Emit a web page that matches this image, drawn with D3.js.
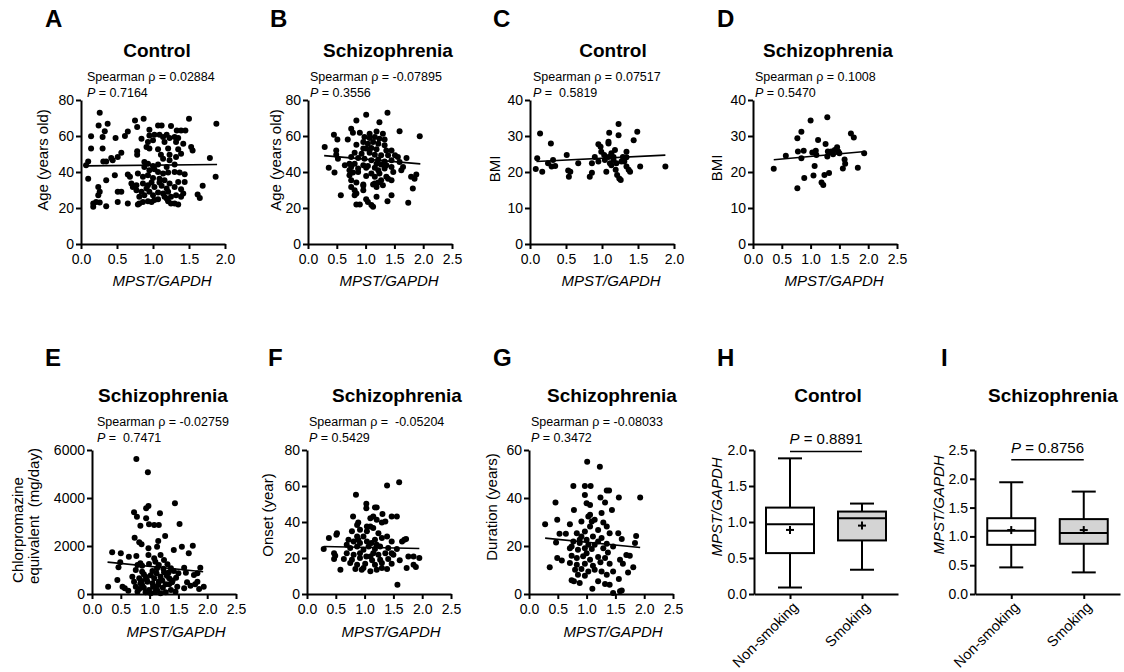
<!DOCTYPE html>
<html><head><meta charset="utf-8">
<script src="https://cdn.jsdelivr.net/npm/d3@7"></script>
<style>
body{margin:0;background:#fff}
svg{display:block}
text{font-family:Arial,"Liberation Sans",sans-serif;fill:#000;white-space:pre}
</style>
</head><body>
<svg id="c" width="1124" height="672"></svg>
<script>
// ---------------- DATA ----------------
const xLabel = "MPST/GAPDH";
const panelLetters = ["A","B","C","D","E","F","G","H","I"];
const panelTitles = ["Control","Schizophrenia","Control","Schizophrenia","Schizophrenia","Schizophrenia","Schizophrenia","Control","Schizophrenia"];
const yTitles = [["Age (years old)"],["Age (years old)"],["BMI"],["BMI"],["Chlorpromazine","equivalent  (mg/day)"],["Onset (year)"],["Duration (years)"],["MPST/GAPDH"],["MPST/GAPDH"]];
const rhoTexts = ["Spearman \u03c1 = 0.02884","Spearman \u03c1 = -0.07895","Spearman \u03c1 = 0.07517","Spearman \u03c1 = 0.1008","Spearman \u03c1 = -0.02759","Spearman \u03c1 =  -0.05204","Spearman \u03c1 = -0.08033"];
const pTexts = [" = 0.7164"," = 0.3556"," =  0.5819"," = 0.5470"," =  0.7471"," = 0.5429"," = 0.3472"];
const xMax = [2.0,2.5,2.0,2.5,2.5,2.5,2.5];
const yMax = [80,80,40,40,6000,80,60];
const yStep = [20,20,10,10,2000,20,20];

const ageControl = [[0.26,72.9],[0.75,68.6],[0.87,69.6],[1.50,69.6],[1.88,66.8],[0.245,65.9],[0.37,66.8],[0.78,65],[0.95,63.5],[1.07,65.9],[1.12,65.9],[1.25,65.5],[1.33,63.1],[1.39,63.1],[1.45,63.1],[0.33,62.7],[0.65,62.5],[0.14,59.8],[0.30,59.4],[0.48,58.9],[0.61,60],[0.84,58.5],[0.95,60.3],[1.02,60.7],[1.09,60.7],[1.14,59.4],[1.19,60.7],[1.23,58.9],[1.30,59.4],[1.35,58.9],[0.93,56.6],[1.00,57.6],[1.16,56.6],[1.32,56.6],[1.42,55.7],[1.53,53.9],[1.55,52],[0.14,53],[0.30,53],[0.91,53.9],[0.95,53],[1.07,52.6],[1.21,53],[1.35,52.6],[1.39,50.2],[1.23,49.6],[0.56,50.7],[0.51,48.3],[0.44,46.5],[0.42,47.8],[0.31,45.9],[0.35,45.9],[0.10,45.9],[0.07,43.7],[0.78,49.6],[0.78,51.5],[1.11,49.6],[1.14,47.4],[1.23,46.5],[1.32,48.3],[1.79,47.8],[0.88,45.6],[0.93,44.6],[1.00,43.4],[1.07,44.1],[1.19,42.8],[1.30,44.1],[0.88,42.8],[0.95,41],[1.02,41.5],[1.07,40],[1.14,39.1],[1.21,39.7],[1.30,40],[1.37,39.7],[1.44,38.7],[1.87,37.3],[0.10,36.3],[0.35,35.4],[0.47,38.2],[0.65,38.6],[0.68,37.3],[0.79,39.1],[0.86,37.3],[0.93,38.2],[1.00,36.7],[1.09,36.3],[1.09,34.1],[1.16,35.4],[1.23,33.6],[1.35,34.5],[1.44,34.5],[0.70,33.6],[0.77,32.7],[0.86,33.6],[0.93,32.7],[0.98,34.1],[1.02,31.7],[1.12,32.3],[1.19,30.8],[1.30,31.7],[1.39,30.4],[1.69,32.3],[0.24,31.7],[0.26,29],[0.51,29],[0.56,29],[0.72,31.7],[0.77,29.9],[0.84,29],[0.91,30.8],[0.95,29],[1.07,28.6],[1.14,28],[1.21,29],[1.32,27.1],[1.42,28],[1.62,27.5],[0.24,27.1],[1.65,25.6],[0.81,26.2],[0.88,27.1],[1.00,27.1],[1.16,26.2],[1.25,26.2],[1.39,26.2],[0.51,23.4],[0.65,22.5],[0.81,22.5],[0.86,23.4],[0.93,23.8],[1.07,24.9],[1.21,23.8],[1.25,22.5],[1.30,22.5],[1.35,22],[0.17,22.5],[0.21,23.4],[0.26,23.1],[0.17,20.7],[0.35,21],[0.79,22],[0.98,23.4],[1.02,24.4],[1.19,25.3]];

const ageSchizo = [[1.38,72.9],[1.01,71.8],[0.84,68.6],[1.24,67.7],[1.59,62.7],[1.94,59.8],[0.75,64],[0.78,61.8],[0.90,61.8],[1.19,62.5],[1.07,61.3],[1.30,61.3],[0.45,60.7],[0.51,58.1],[0.69,58.1],[0.98,59.4],[1.07,58.9],[1.16,59.4],[1.24,58.5],[1.33,58.1],[0.29,53.9],[0.84,55.2],[0.96,56.6],[1.04,55.7],[1.13,56.6],[1.22,55.7],[1.33,54.8],[0.49,52],[0.96,53],[1.01,53],[1.10,53.3],[1.19,52.6],[1.36,52],[1.45,52],[0.81,50.7],[0.93,50.2],[1.07,50.7],[1.16,49.6],[1.27,49.3],[1.39,49.3],[1.51,49.3],[0.49,49.6],[0.75,48.3],[0.87,47.8],[0.98,47.4],[1.10,46.5],[1.22,47],[1.33,45.9],[1.45,46.5],[1.56,48.3],[1.71,47.8],[1.59,45.6],[0.72,44.6],[0.64,43.7],[0.81,44.6],[0.96,43.7],[1.04,43.4],[1.19,44.6],[1.27,44.1],[1.36,43.7],[0.36,42.3],[0.46,39.7],[0.75,42.8],[0.87,41.9],[1.01,42.3],[1.16,42.3],[1.22,41],[1.33,41.9],[1.45,42.8],[1.62,41],[1.65,42.8],[0.78,39.7],[0.87,40],[1.10,39.1],[1.24,39.1],[1.48,40],[0.72,38.2],[1.01,37.8],[1.16,37.3],[1.36,37.3],[1.88,38.6],[1.79,37.3],[0.75,35.4],[0.84,34.1],[1.27,35.4],[1.39,36.3],[1.85,36.3],[0.96,33],[1.16,33.6],[1.22,34.1],[1.45,35.4],[0.75,31.7],[0.81,29.9],[1.13,33],[1.19,31.7],[1.30,32.7],[1.82,30.8],[0.84,28],[0.96,32.3],[1.45,27.1],[0.57,27.1],[0.81,27.1],[1.01,24.9],[1.19,26.2],[1.38,23.8],[1.74,22.9],[0.84,22],[0.90,22],[1.10,21.6],[1.13,20.7],[1.04,23.4],[0.96,29.9],[0.72,41],[0.52,47.4]];

const bmiControl = [[0.14,30.7],[0.10,23.8],[0.08,20.8],[0.17,20.1],[0.25,22.4],[0.29,27.9],[0.32,23.3],[0.30,21.5],[0.35,21.7],[0.51,24.7],[0.53,20.4],[0.56,20.1],[0.54,18.7],[0.67,22.4],[0.83,18.7],[0.86,19.8],[0.86,22.4],[0.90,24.2],[0.95,22.9],[0.95,27.7],[0.98,27],[0.99,25.6],[1.03,24.7],[1.04,23.3],[1.06,20.1],[1.09,27.9],[1.09,28.4],[1.10,30.9],[1.09,24.2],[1.11,22.4],[1.13,25.2],[1.16,23.3],[1.18,26.1],[1.19,20.6],[1.21,19.2],[1.23,33.3],[1.23,30.2],[1.24,18.2],[1.26,17.8],[1.27,22.9],[1.29,24.2],[1.31,22.9],[1.34,25.6],[1.34,21.5],[1.37,20.6],[1.39,20.1],[1.44,28.8],[1.49,31.2],[1.53,21.5],[1.88,21.5],[1.16,24.2],[1.20,22.4],[1.13,21.9],[1.34,24.1]];

const bmiSchizo = [[0.36,20.9],[0.57,24.5],[0.77,15.5],[0.77,29.4],[0.84,31.2],[0.78,25.7],[0.84,23.8],[0.88,25.9],[0.89,18.3],[1.00,34.3],[1.03,25.4],[1.05,19],[1.07,21.7],[1.09,25.9],[1.10,24.7],[1.13,28.9],[1.19,17.1],[1.22,16.4],[1.24,19.2],[1.26,27.8],[1.29,35.2],[1.29,24.3],[1.32,19.7],[1.30,25.7],[1.36,25.7],[1.42,26.1],[1.46,26.9],[1.48,25.7],[1.50,25.2],[1.56,21],[1.59,23.5],[1.60,22.3],[1.70,30.7],[1.75,29.6],[1.82,21.2],[1.93,25.2],[1.39,24.9]];

const cpzDose = [[0.77,5625],[0.97,5070],[1.44,3778],[0.94,3570],[0.98,3667],[0.73,3403],[0.78,3222],[0.94,3153],[1.18,3361],[0.84,2847],[0.99,2903],[1.08,2875],[1.16,2875],[1.52,2917],[1.27,2417],[0.74,2347],[0.82,2153],[0.86,2070],[1.15,2208],[0.98,1903],[1.13,1972],[1.56,1972],[1.75,2014],[1.42,1833],[1.68,1694],[0.35,1736],[0.50,1694],[0.77,1583],[0.98,1625],[1.08,1486],[1.19,1625],[1.10,1347],[1.25,1417],[0.84,1278],[0.87,1180],[0.99,1250],[1.16,1208],[1.31,1236],[0.49,1319],[0.46,1111],[1.37,1069],[1.60,1097],[1.88,1097],[0.76,1000],[0.87,930],[1.05,958],[1.13,1069],[1.25,903],[1.42,958],[1.50,861],[1.63,889],[1.77,792],[1.83,861],[0.70,722],[0.82,653],[0.93,722],[1.08,653],[1.19,722],[1.34,653],[1.46,680],[0.44,583],[0.73,514],[0.84,444],[0.96,514],[1.05,444],[1.16,514],[1.28,403],[1.39,486],[1.65,486],[1.79,403],[1.83,514],[0.28,306],[0.53,306],[0.57,236],[0.63,139],[0.76,306],[0.82,208],[0.90,264],[0.99,167],[1.08,306],[1.13,167],[1.23,264],[1.37,167],[1.48,306],[1.60,236],[1.71,347],[1.86,208],[1.94,306],[0.79,97],[0.93,69],[1.10,97],[1.28,69],[1.45,97],[0.87,375],[1.19,28],[1.02,28],[1.34,403],[0.79,1208],[0.64,1556],[0.90,820],[1.02,780],[1.12,860],[1.22,560],[1.30,760],[0.95,600],[1.06,300],[1.15,380],[0.86,540],[1.24,1050],[1.33,900],[1.40,560]];

const onsetAge = [[1.60,62.1],[1.39,60.3],[0.85,55.1],[1.03,50.1],[1.03,47.7],[1.18,48.1],[1.21,48.1],[1.31,44.4],[1.56,43.1],[1.47,43.1],[0.80,43.1],[1.15,43.1],[1.36,40.3],[1.30,39.7],[1.21,41.2],[1.10,42.1],[0.87,38.4],[0.89,39.7],[0.38,31.1],[0.52,33.8],[0.51,32.9],[0.78,34.8],[0.92,35.7],[1.04,34.8],[1.15,36.6],[1.24,33.8],[1.39,32],[0.98,32],[0.72,30.1],[0.81,29.2],[0.89,30.1],[1.04,29.2],[1.18,30.1],[1.30,31.1],[1.47,29.2],[1.69,30.1],[1.72,30.5],[1.65,29.2],[0.29,25],[0.75,25.5],[0.87,26.4],[0.98,24.6],[1.07,26.4],[1.18,25],[1.27,26.4],[1.41,25.5],[1.56,25],[0.47,22.7],[0.49,21.3],[0.69,22.7],[0.81,21.8],[0.92,22.7],[1.03,20.9],[1.15,22.7],[1.24,21.8],[1.36,22.7],[1.50,21.8],[1.76,20.9],[1.85,20.9],[1.95,20],[0.47,19.4],[0.64,19.4],[0.78,19],[0.92,20],[1.13,18.7],[1.27,19],[1.41,19.4],[1.61,18.7],[0.75,17.2],[0.87,16.3],[1.01,16.8],[1.18,16.3],[1.30,17.2],[1.47,16.8],[1.85,16.3],[1.89,15],[1.73,14.4],[0.58,13.5],[0.84,13.9],[0.95,13.5],[0.98,14.4],[1.10,12.6],[1.21,13.5],[1.39,13.9],[1.57,5.2],[1.10,37.5],[1.04,37.5],[0.92,28.3],[1.21,27.4],[0.87,32],[1.12,28.3],[0.69,27.4],[1.47,22.7],[1.10,20.9],[1.30,14.4]];

const illnessDuration = [[1.01,55.1],[1.23,53],[0.77,45],[0.97,45],[1.07,45],[1.35,43.1],[1.39,43.1],[1.93,40.2],[1.56,40.2],[0.97,41.3],[1.24,40.2],[1.00,37.8],[1.06,37.1],[1.32,38.1],[0.46,38.1],[1.44,35],[0.78,35],[1.06,33],[1.03,32.3],[0.49,30.9],[0.28,29.1],[0.71,29.1],[0.91,30.2],[1.14,30.9],[1.29,29.8],[1.35,28.1],[1.20,26.7],[0.97,26],[1.06,28.1],[0.53,25.1],[0.64,25.1],[1.40,25.3],[1.55,25.3],[1.86,24.2],[0.83,25.3],[0.91,24],[1.00,22.6],[1.11,24],[1.26,23.3],[1.61,22.9],[0.47,21.5],[0.77,21.9],[0.88,21.2],[1.03,20.5],[1.20,21.9],[1.35,20.9],[1.46,19.8],[1.84,21.2],[0.71,19.1],[0.85,18.4],[0.97,19.1],[1.09,18.7],[1.29,19.1],[1.37,17.3],[1.69,16.3],[1.75,15.9],[0.49,15],[0.57,14],[0.74,15.9],[0.83,15],[0.94,15.7],[1.06,14.3],[1.20,15.4],[1.32,15],[1.58,14.3],[0.71,12.9],[0.83,12.2],[0.97,12.6],[1.11,11.8],[1.24,13.2],[1.40,12.6],[0.36,11.1],[1.63,12.6],[1.81,11.1],[0.80,10.1],[0.91,10.4],[1.03,9.4],[1.14,10.1],[1.26,9.4],[1.46,9.4],[1.72,9],[0.85,8],[0.97,7.6],[1.35,8],[1.56,6.2],[0.74,5.7],[0.78,5.3],[0.88,4.6],[1.20,5.3],[1.32,4.2],[1.40,3.9],[1.10,2.2],[1.61,1.5],[1.58,1.1],[1.46,0.4],[1.00,17],[0.88,22.6],[1.14,20.5],[1.09,30.2],[1.26,33.7],[0.74,19.8]];

// regression lines [x0, y0, x1, y1] per scatter panel
const fitLines = [[0.07,43.4,1.89,44.2],[0.28,49.1,1.95,44.5],[0.09,22.9,1.88,24.7],[0.36,23.4,1.95,25.7],[0.27,1330,1.93,930],[0.29,26.4,1.95,25.3],[0.28,23.3,1.93,19.4]];

// box plots
const boxGroups = ["Non-smoking","Smoking"];
const boxControl = [{min:0.09,q1:0.568,med:0.97,q3:1.20,max:1.884,mean:0.89},{min:0.337,q1:0.744,med:1.053,q3:1.145,max:1.256,mean:0.95}];
const boxSchizo = [{min:0.462,q1:0.854,med:1.097,q3:1.316,max:1.94,mean:1.11},{min:0.375,q1:0.872,med:1.057,q3:1.30,max:1.778,mean:1.11}];
const boxYMax = [2.0,2.5];
const boxPText = [" = 0.8891"," = 0.8756"];
const boxPBar = [1.98,2.33];
const boxFills = ["#ffffff","#d4d4d4"];

// ---------------- LAYOUT ----------------
const svg = d3.select("#c");
const FS_TICK = 14, FS_TITLE = 19, FS_STAT = 12.5, FS_AXT = 15, FS_LET = 24;
const W = 144, H = 144;

const scatterData = [ageControl, ageSchizo, bmiControl, bmiSchizo, cpzDose, onsetAge, illnessDuration];
const L = [
 {x0:81, yb:244, lx:45, tc:157, sx:87, ytx:[43], yty:160, xtc:162},
 {x0:308,yb:244, lx:270, tc:388, sx:310, ytx:[276], yty:160, xtc:389},
 {x0:530,yb:244, lx:493, tc:613, sx:533, ytx:[495], yty:169, xtc:611},
 {x0:753,yb:244, lx:717, tc:828, sx:755, ytx:[717], yty:168, xtc:834},
 {x0:92, yb:594, lx:45, tc:163, sx:97, ytx:[18,34], yty:[530,516], xtc:176},
 {x0:307,yb:594, lx:268, tc:397, sx:309, ytx:[268], yty:515, xtc:391},
 {x0:529,yb:594, lx:493, tc:612, sx:531, ytx:[492], yty:507, xtc:613},
 {x0:754,yb:594, lx:717, tc:828, ytx:[717], yty:507, x1:898},
 {x0:975,yb:594, lx:941, tc:1053, ytx:[939], yty:505, x1:1120}
];
function rowY(yb){ return yb < 300 ?
  {letter:27, title:57, rho:81, p:97, xt:286} :
  {letter:366, title:402, rho:426, p:442, xt:637}; }

function styleAxis(g){
  g.select(".domain").attr("stroke","#000").attr("stroke-width",2);
  g.selectAll(".tick line").attr("stroke","#000").attr("stroke-width",2);
  g.selectAll(".tick text").attr("font-size",FS_TICK).attr("fill","#000")
    .attr("font-family","Arial, 'Liberation Sans', sans-serif");
}

function commonText(i){
  const l = L[i], r = rowY(l.yb);
  svg.append("text").attr("x",l.lx).attr("y",r.letter).attr("font-size",FS_LET)
    .attr("font-weight","bold").text(panelLetters[i]);
  svg.append("text").attr("x",l.tc).attr("y",r.title).attr("text-anchor","middle")
    .attr("font-size",FS_TITLE).attr("font-weight","bold").text(panelTitles[i]);
  yTitles[i].forEach((t,k)=>{
    const cy = Array.isArray(l.yty) ? l.yty[k] : l.yty;
    svg.append("text").attr("transform",`translate(${l.ytx[k]},${cy}) rotate(-90)`)
      .attr("text-anchor","middle").attr("dy","0.35em").attr("font-size",FS_AXT)
      .attr("font-style", i>=7 ? "italic" : "normal").text(t);
  });
}

// scatter panels
scatterData.forEach((data,i)=>{
  const l = L[i], r = rowY(l.yb);
  const x = d3.scaleLinear().domain([0,xMax[i]]).range([l.x0,l.x0+W]);
  const y = d3.scaleLinear().domain([0,yMax[i]]).range([l.yb,l.yb-H]);
  const gx = svg.append("g").attr("transform",`translate(0,${l.yb})`)
    .call(d3.axisBottom(x).tickValues(d3.range(0,xMax[i]+1e-9,0.5)).tickFormat(d3.format(".1f"))
      .tickSize(5).tickSizeOuter(0).tickPadding(5));
  styleAxis(gx);
  const gy = svg.append("g").attr("transform",`translate(${l.x0},0)`)
    .call(d3.axisLeft(y).tickValues(d3.range(0,yMax[i]+1e-9,yStep[i])).tickFormat(d3.format("d"))
      .tickSize(5).tickSizeOuter(0).tickPadding(2));
  styleAxis(gy);
  svg.append("g").selectAll("circle").data(data).join("circle")
    .attr("cx",d=>x(d[0])).attr("cy",d=>y(d[1])).attr("r",3).attr("fill","#000");
  const f = fitLines[i];
  svg.append("line").attr("x1",x(f[0])).attr("y1",y(f[1])).attr("x2",x(f[2])).attr("y2",y(f[3]))
    .attr("stroke","#000").attr("stroke-width",1.6);
  commonText(i);
  svg.append("text").attr("x",l.sx).attr("y",r.rho).attr("font-size",FS_STAT).text(rhoTexts[i]);
  const pt = svg.append("text").attr("x",l.sx).attr("y",r.p).attr("font-size",FS_STAT);
  pt.append("tspan").attr("font-style","italic").text("P");
  pt.append("tspan").text(pTexts[i]);
  svg.append("text").attr("x",l.xtc).attr("y",r.xt).attr("text-anchor","middle")
    .attr("font-size",FS_AXT).attr("font-style","italic").text(xLabel);
});

// box panels
[boxControl, boxSchizo].forEach((data,j)=>{
  const i = 7+j, l = L[i];
  const x = d3.scalePoint().domain(boxGroups).range([l.x0,l.x1]).padding(0.5);
  const y = d3.scaleLinear().domain([0,boxYMax[j]]).range([l.yb,l.yb-H]);
  const gx = svg.append("g").attr("transform",`translate(0,${l.yb})`)
    .call(d3.axisBottom(x).tickSize(5).tickSizeOuter(0).tickFormat(""));
  styleAxis(gx);
  boxGroups.forEach(g=>{
    svg.append("text").attr("transform",`translate(${x(g)+9},${l.yb+14}) rotate(-45)`)
      .attr("text-anchor","end").attr("font-size",14.5).text(g);
  });
  const gy = svg.append("g").attr("transform",`translate(${l.x0},0)`)
    .call(d3.axisLeft(y).tickValues(d3.range(0,boxYMax[j]+1e-9,0.5)).tickFormat(d3.format(".1f"))
      .tickSize(5).tickSizeOuter(0).tickPadding(2));
  styleAxis(gy);
  const bw = 48, cw = 24;
  data.forEach((d,k)=>{
    const cx = x(boxGroups[k]);
    const g = svg.append("g").attr("stroke","#000").attr("stroke-width",2);
    g.append("line").attr("x1",cx).attr("x2",cx).attr("y1",y(d.min)).attr("y2",y(d.q1));
    g.append("line").attr("x1",cx).attr("x2",cx).attr("y1",y(d.q3)).attr("y2",y(d.max));
    g.append("line").attr("x1",cx-cw/2).attr("x2",cx+cw/2).attr("y1",y(d.min)).attr("y2",y(d.min));
    g.append("line").attr("x1",cx-cw/2).attr("x2",cx+cw/2).attr("y1",y(d.max)).attr("y2",y(d.max));
    g.append("rect").attr("x",cx-bw/2).attr("width",bw).attr("y",y(d.q3)).attr("height",y(d.q1)-y(d.q3))
      .attr("fill",boxFills[k]);
    g.append("line").attr("x1",cx-bw/2).attr("x2",cx+bw/2).attr("y1",y(d.med)).attr("y2",y(d.med));
    g.append("line").attr("x1",cx-4).attr("x2",cx+4).attr("y1",y(d.mean)).attr("y2",y(d.mean));
    g.append("line").attr("x1",cx).attr("x2",cx).attr("y1",y(d.mean)-4).attr("y2",y(d.mean)+4);
  });
  svg.append("line").attr("x1",x(boxGroups[0])).attr("x2",x(boxGroups[1]))
    .attr("y1",y(boxPBar[j])).attr("y2",y(boxPBar[j])).attr("stroke","#000").attr("stroke-width",1.6);
  const pt = svg.append("text").attr("x",(x(boxGroups[0])+x(boxGroups[1]))/2).attr("y",y(boxPBar[j])-7)
    .attr("text-anchor","middle").attr("font-size",15);
  pt.append("tspan").attr("font-style","italic").text("P");
  pt.append("tspan").text(boxPText[j]);
  commonText(i);
});
</script>
</body></html>
